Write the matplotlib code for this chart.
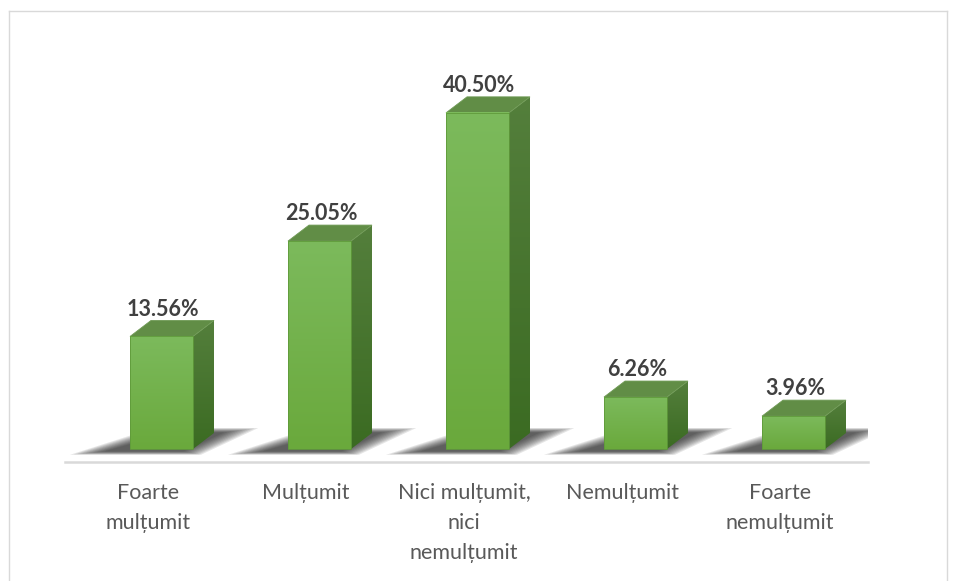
import numpy as np
import matplotlib
matplotlib.use("Agg")
import matplotlib.pyplot as plt
from matplotlib.patches import Polygon
from matplotlib.lines import Line2D
from matplotlib.colors import LinearSegmentedColormap

categories = ["Foarte\nmulțumit", "Mulțumit", "Nici mulțumit,\nnici\nnemulțumit",
              "Nemulțumit", "Foarte\nnemulțumit"]
values = [13.56, 25.05, 40.50, 6.26, 3.96]
value_labels = ["13.56%", "25.05%", "40.50%", "6.26%", "3.96%"]

W, H = 955, 581
fig = plt.figure(figsize=(W / 100, H / 100), dpi=100)
fig.patch.set_facecolor("white")

# axes placement (pixels)
px_left, px_right, px_base, px_top = 65, 868, 462, 20
ax = fig.add_axes([px_left / W, (H - px_base) / H, (px_right - px_left) / W, (px_base - px_top) / H])
ppu_y = 8.3      # pixels per percent
ppu_x = 158.0    # pixels per category
ymin = -(px_base - 449) / ppu_y
ymax = (449 - px_top) / ppu_y
x0 = -(161.5 - px_left) / ppu_x
x1 = x0 + (px_right - px_left) / ppu_x
ax.set_xlim(x0, x1)
ax.set_ylim(ymin, ymax)
ax.axis("off")

bw = 63 / ppu_x
ddx = 21 / ppu_x
ddy = 16 / ppu_y

front_cmap = LinearSegmentedColormap.from_list("f", ["#6aa93c", "#7cba5c"])
side_cmap = LinearSegmentedColormap.from_list("s", ["#3b6b22", "#547f3c"])
grad = np.linspace(0, 1, 256).reshape(-1, 1)

for i, v in enumerate(values):
    c = i
    l, r = c - bw / 2, c + bw / 2
    # shadow (stacked translucent layers for blur)
    for k in range(10):
        e = 0.012 * k
        ey = 0.15 * k
        sh = [(l - 0.38 + e * 2, -0.7 + ey * 0.3),
              (r + 0.05 - e, -0.7 + ey * 0.3),
              (r + ddx + 0.28 - e * 2, ddy + 0.6 - ey * 0.4),
              (l + 0.15 + e, ddy + 0.6 - ey * 0.4)]
        ax.add_patch(Polygon(sh, closed=True, facecolor="#1a1a1a", edgecolor="none",
                             alpha=0.11, zorder=1))
    # side face
    side = Polygon([(r, 0), (r + ddx, ddy), (r + ddx, v + ddy), (r, v)], closed=True,
                   facecolor="none", edgecolor="none", zorder=2)
    ax.add_patch(side)
    im = ax.imshow(grad, extent=(r, r + ddx, 0, v + ddy), origin="lower", cmap=side_cmap,
                   aspect="auto", zorder=2, interpolation="bilinear")
    im.set_clip_path(side)
    # top face
    ax.add_patch(Polygon([(l, v), (r, v), (r + ddx, v + ddy), (l + ddx, v + ddy)], closed=True,
                         facecolor="#618d46", edgecolor="#6f9a55", lw=0.6, zorder=3))
    # front face
    ax.imshow(grad, extent=(l, r, 0, v), origin="lower", cmap=front_cmap,
              aspect="auto", zorder=3, interpolation="bilinear")
    ax.add_patch(Polygon([(l, 0), (r, 0), (r, v), (l, v)], closed=True, facecolor="none",
                         edgecolor="#5f9a3a", lw=0.6, zorder=4))
    # value label
    ax.text(c + 0.01, v + ddy + 0.1, value_labels[i], ha="center", va="bottom",
            fontsize=15.5, fontweight="bold", family="Lato", color="#404040", zorder=5)
    # category label
    ax.text(c - 0.085, ymin - 2.5, categories[i], ha="center", va="top", fontsize=15.5,
            family="Lato", color="#595959", linespacing=1.62, clip_on=False)

ax.set_xlim(x0, x1)
ax.set_ylim(ymin, ymax)

# baseline
ax.plot([x0, x1], [ymin, ymin], color="#d9d9d9", lw=1.8, clip_on=False, zorder=0)

# chart border
bc = "#d9d9d9"
fig.add_artist(Line2D([8.5 / W, 8.5 / W], [0, 1 - 11 / H], color=bc, lw=1, transform=fig.transFigure))
fig.add_artist(Line2D([8.5 / W, 947 / W], [1 - 11 / H, 1 - 11 / H], color=bc, lw=1, transform=fig.transFigure))
fig.add_artist(Line2D([947 / W, 947 / W], [0, 1 - 11 / H], color=bc, lw=1, transform=fig.transFigure))

fig.savefig("out.png", dpi=100, facecolor="white")
